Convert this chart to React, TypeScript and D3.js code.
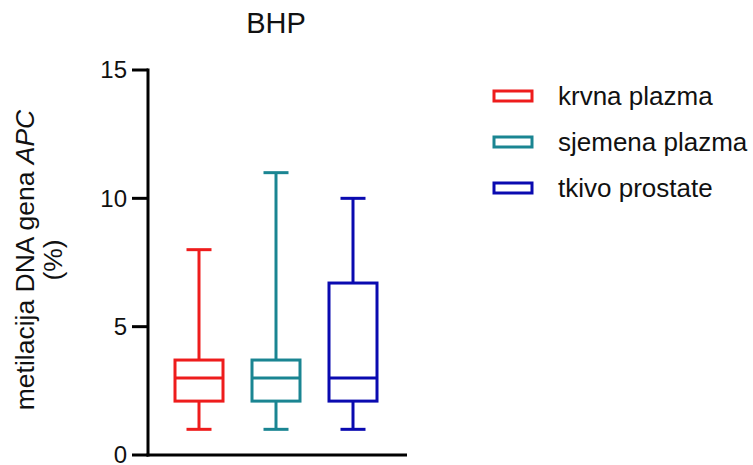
import React from "react";
import * as d3 from "d3";

const categories = ["krvna plazma", "sjemena plazma", "tkivo prostate"];
const mins = [1, 1, 1];
const q1s = [2.1, 2.1, 2.1];
const medians = [3, 3, 3];
const q3s = [3.7, 3.7, 6.7];
const maxs = [8, 11, 10];
const colors = ["#ee1c1c", "#1a8592", "#0a0ab0"];
const yTicks = [0, 5, 10, 15];
const title = "BHP";

const W = 753;
const H = 465;
const FONT = "'Liberation Sans', Arial, Helvetica, sans-serif";

export default function App() {
  const y = d3.scaleLinear().domain([0, 15]).range([455, 70]);
  const x = d3.scalePoint<string>().domain(categories).range([199, 353]);
  const axisX = 148;
  const boxW = 48;
  const capW = 25;
  const sw = 3;

  return (
    <svg
      width={W}
      height={H}
      style={{ position: "absolute", left: 0, top: 0, background: "#fff" }}
      fontFamily={FONT}
    >
      <text x={276} y={33} textAnchor="middle" fontSize={29} fill="#111">
        {title}
      </text>

      {/* y axis */}
      <line x1={axisX} x2={axisX} y1={y(15) - 1.5} y2={y(0) + 1.5} stroke="#000" strokeWidth={3} />
      {yTicks.map((t) => (
        <g key={t}>
          <line x1={axisX - 16} x2={axisX} y1={y(t)} y2={y(t)} stroke="#000" strokeWidth={3} />
          <text
            x={axisX - 21}
            y={y(t)}
            dy="0.35em"
            textAnchor="end"
            fontSize={24}
            fill="#111"
          >
            {t}
          </text>
        </g>
      ))}
      {/* x axis */}
      <line x1={axisX - 1.5} x2={407} y1={y(0)} y2={y(0)} stroke="#000" strokeWidth={3} />

      {/* y label */}
      <g transform={`translate(34, 260) rotate(-90)`}>
        <text textAnchor="middle" fontSize={26.5} fill="#111">
          metilacija DNA gena <tspan fontStyle="italic">APC</tspan>
        </text>
        <text y={28} textAnchor="middle" fontSize={26.5} fill="#111">
          (%)
        </text>
      </g>

      {/* boxes */}
      {categories.map((c, i) => {
        const cx = x(c)!;
        const col = colors[i];
        return (
          <g key={c} stroke={col} strokeWidth={sw} fill="none">
            <line x1={cx} x2={cx} y1={y(maxs[i])} y2={y(q3s[i])} />
            <line x1={cx} x2={cx} y1={y(q1s[i])} y2={y(mins[i])} />
            <line x1={cx - capW / 2} x2={cx + capW / 2} y1={y(maxs[i])} y2={y(maxs[i])} />
            <line x1={cx - capW / 2} x2={cx + capW / 2} y1={y(mins[i])} y2={y(mins[i])} />
            <rect x={cx - boxW / 2} y={y(q3s[i])} width={boxW} height={y(q1s[i]) - y(q3s[i])} />
            <line x1={cx - boxW / 2} x2={cx + boxW / 2} y1={y(medians[i])} y2={y(medians[i])} />
          </g>
        );
      })}

      {/* legend */}
      {categories.map((c, i) => {
        const cy = 96 + i * 46;
        return (
          <g key={c}>
            <rect x={494} y={cy - 5} width={38} height={10} fill="none" stroke={colors[i]} strokeWidth={3} />
            <text x={558} y={cy} dy="0.35em" fontSize={26} fill="#111">
              {c}
            </text>
          </g>
        );
      })}
    </svg>
  );
}
